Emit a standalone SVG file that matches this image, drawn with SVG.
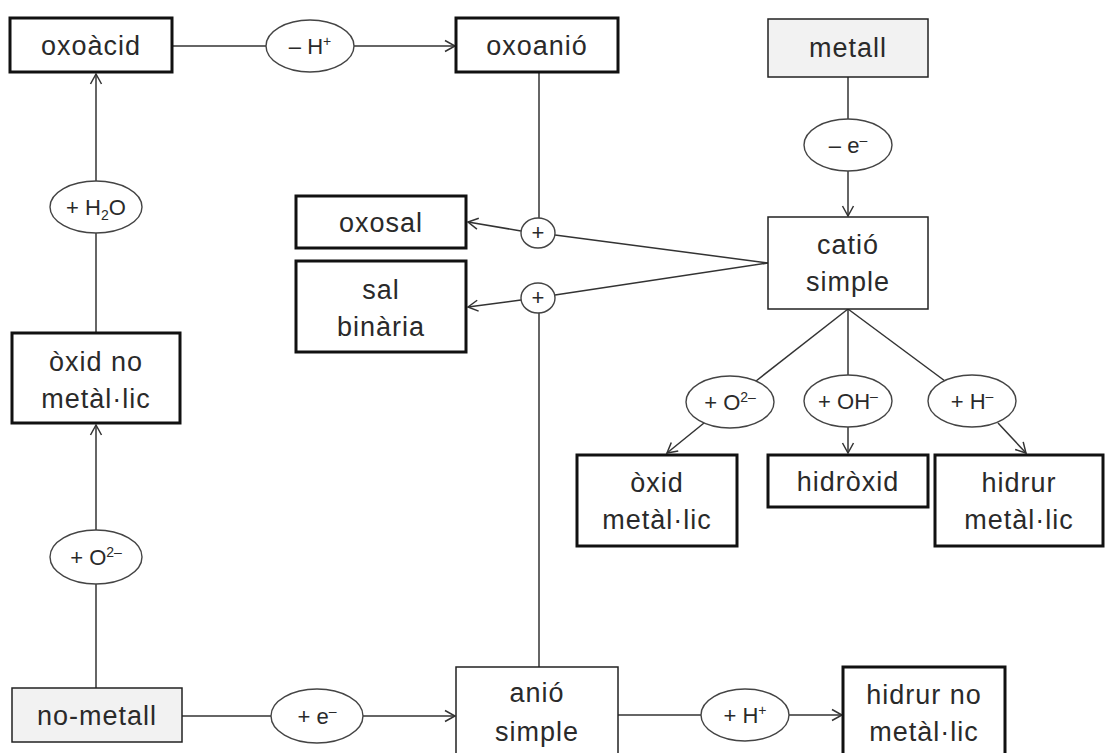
<svg xmlns="http://www.w3.org/2000/svg" width="1113" height="753" viewBox="0 0 1113 753">
<defs>
<marker id="arr" markerUnits="userSpaceOnUse" markerWidth="14" markerHeight="14" refX="11" refY="7" orient="auto">
<path d="M1,1.5 L11,7 L1,12.5" fill="none" stroke="#333" stroke-width="1.5"/>
</marker>
<style>
.thick{fill:#fff;stroke:#111;stroke-width:3}
.thin{fill:#fff;stroke:#222;stroke-width:1.5}
.grey{fill:#f2f2f2;stroke:#222;stroke-width:1.5}
.ell{fill:#fff;stroke:#444;stroke-width:1.4}
.t{font-family:"Liberation Sans",Arial,sans-serif;font-size:27px;letter-spacing:1px;fill:#2a2a2a;text-anchor:middle}
.e{font-family:"Liberation Sans",Arial,sans-serif;font-size:22px;fill:#2a2a2a;text-anchor:middle}
.c line{stroke:#333;stroke-width:1.5;fill:none}
.a{marker-end:url(#arr)}
</style>
</defs>
<rect width="1113" height="753" fill="#fff"/>

<g class="c" id="connectors">
<line x1="172" y1="46" x2="266" y2="46"/>
<line class="a" x1="354" y1="46" x2="455" y2="46"/>
<line x1="848" y1="77" x2="848" y2="119"/>
<line class="a" x1="848" y1="171" x2="848" y2="216"/>
<line x1="539" y1="72" x2="539" y2="218"/>
<line class="a" x1="521" y1="231" x2="468" y2="222"/>
<line class="a" x1="521" y1="300" x2="468" y2="307"/>
<line x1="768" y1="263" x2="555" y2="235"/>
<line x1="768" y1="263" x2="555" y2="295"/>
<line x1="539" y1="313" x2="539" y2="667"/>
<line x1="848" y1="309" x2="756" y2="381"/>
<line x1="848" y1="309" x2="848" y2="375"/>
<line x1="848" y1="309" x2="945" y2="381"/>
<line class="a" x1="704" y1="423" x2="667" y2="453"/>
<line class="a" x1="848" y1="427" x2="848" y2="453"/>
<line class="a" x1="998" y1="423" x2="1026" y2="453"/>
<line x1="96" y1="688" x2="96" y2="584"/>
<line class="a" x1="96" y1="530" x2="96" y2="425"/>
<line x1="96" y1="333" x2="96" y2="233"/>
<line class="a" x1="96" y1="181" x2="96" y2="74"/>
<line x1="182" y1="716" x2="271" y2="716"/>
<line class="a" x1="363" y1="716" x2="455" y2="716"/>
<line x1="618" y1="715" x2="701" y2="715"/>
<line class="a" x1="789" y1="715" x2="842" y2="715"/>
</g>

<g id="oxoacid"><rect class="thick" x="10" y="18" width="162" height="54"/><text class="t" x="91" y="55">oxoàcid</text></g>
<g id="oxoanio"><rect class="thick" x="456" y="18" width="162" height="54"/><text class="t" x="537" y="55">oxoanió</text></g>
<g id="metall"><rect class="grey" x="768" y="19" width="160" height="58"/><text class="t" x="848" y="57">metall</text></g>
<g id="catio"><rect class="thin" x="768" y="217" width="160" height="92"/><text class="t" x="848" y="254">catió</text><text class="t" x="848" y="291">simple</text></g>
<g id="oxosal"><rect class="thick" x="296" y="196" width="170" height="52"/><text class="t" x="381" y="232">oxosal</text></g>
<g id="salbinaria"><rect class="thick" x="296" y="261" width="170" height="91"/><text class="t" x="381" y="299">sal</text><text class="t" x="381" y="336">binària</text></g>
<g id="oxidnometallic"><rect class="thick" x="12" y="333" width="168" height="90"/><text class="t" x="96" y="371">òxid no</text><text class="t" x="96" y="408">metàl·lic</text></g>
<g id="nometall"><rect class="grey" x="12" y="688" width="170" height="54"/><text class="t" x="97" y="725">no-metall</text></g>
<g id="anio"><rect class="thin" x="456" y="667" width="162" height="98"/><text class="t" x="537" y="702">anió</text><text class="t" x="537" y="741">simple</text></g>
<g id="hidrurnometallic"><rect class="thick" x="843" y="667" width="162" height="98"/><text class="t" x="924" y="704">hidrur no</text><text class="t" x="924" y="741">metàl·lic</text></g>
<g id="oxidmetallic"><rect class="thick" x="577" y="455" width="160" height="91"/><text class="t" x="657" y="492">òxid</text><text class="t" x="657" y="529">metàl·lic</text></g>
<g id="hidroxid"><rect class="thick" x="768" y="455" width="160" height="52"/><text class="t" x="848" y="491">hidròxid</text></g>
<g id="hidrurmetallic"><rect class="thick" x="935" y="455" width="168" height="91"/><text class="t" x="1019" y="492">hidrur</text><text class="t" x="1019" y="529">metàl·lic</text></g>

<g id="e-minusH"><ellipse class="ell" cx="310" cy="46" rx="44" ry="26"/><text class="e" x="310" y="54">– H<tspan font-size="14" dy="-8">+</tspan></text></g>
<g id="e-minuse"><ellipse class="ell" cx="848" cy="145" rx="44" ry="26"/><text class="e" x="848" y="153">– e<tspan font-size="14" dy="-8">–</tspan></text></g>
<g id="e-H2O"><ellipse class="ell" cx="96" cy="207" rx="46" ry="26"/><text class="e" x="96" y="215">+ H<tspan font-size="14" dy="5">2</tspan><tspan dy="-5">O</tspan></text></g>
<g id="e-O2left"><ellipse class="ell" cx="96" cy="557" rx="46" ry="27"/><text class="e" x="96" y="565">+ O<tspan font-size="14" dy="-8">2–</tspan></text></g>
<g id="e-plusE"><ellipse class="ell" cx="317" cy="716" rx="46" ry="27"/><text class="e" x="317" y="724">+ e<tspan font-size="14" dy="-8">–</tspan></text></g>
<g id="e-plusH"><ellipse class="ell" cx="745" cy="715" rx="44" ry="26"/><text class="e" x="745" y="723">+ H<tspan font-size="14" dy="-8">+</tspan></text></g>
<g id="e-O2right"><ellipse class="ell" cx="730" cy="402" rx="44" ry="26"/><text class="e" x="730" y="410">+ O<tspan font-size="14" dy="-8">2–</tspan></text></g>
<g id="e-OH"><ellipse class="ell" cx="848" cy="401" rx="44" ry="26"/><text class="e" x="848" y="409">+ OH<tspan font-size="14" dy="-8">–</tspan></text></g>
<g id="e-Hminus"><ellipse class="ell" cx="972" cy="401" rx="44" ry="26"/><text class="e" x="972" y="409">+ H<tspan font-size="14" dy="-8">–</tspan></text></g>
<g id="plus1"><ellipse class="ell" cx="538" cy="233" rx="17" ry="15"/><text class="e" x="538" y="240" font-size="20">+</text></g>
<g id="plus2"><ellipse class="ell" cx="538" cy="298" rx="17" ry="15"/><text class="e" x="538" y="305" font-size="20">+</text></g>
</svg>
